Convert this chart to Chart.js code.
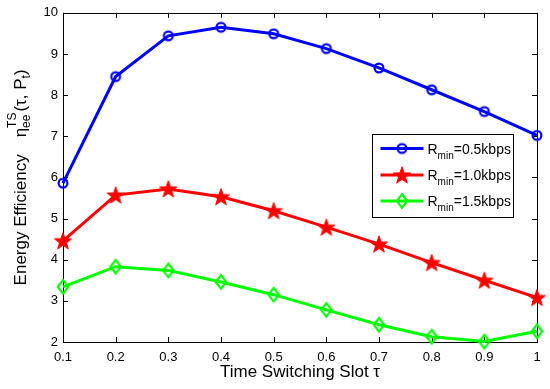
<!DOCTYPE html>
<html>
<head>
<meta charset="utf-8">
<script src="https://cdn.jsdelivr.net/npm/chart.js@4.4.1/dist/chart.umd.min.js"></script>
<style>
html,body{margin:0;padding:0;background:#fff;}
#wrap{width:550px;height:389px;position:relative;}
</style>
</head>
<body>
<div id="wrap"><canvas id="c" width="550" height="389"></canvas></div>
<script>
// ---- data ----
const categories = [0.1, 0.2, 0.3, 0.4, 0.5, 0.6, 0.7, 0.8, 0.9, 1.0];
const seriesR05 = [5.86, 8.45, 9.44, 9.65, 9.49, 9.13, 8.66, 8.13, 7.60, 7.02];
const seriesR10 = [4.46, 5.57, 5.72, 5.53, 5.19, 4.79, 4.38, 3.93, 3.50, 3.08];
const seriesR15 = [3.34, 3.83, 3.74, 3.46, 3.15, 2.78, 2.42, 2.13, 2.01, 2.26];
const xTicks = [0.1, 0.2, 0.3, 0.4, 0.5, 0.6, 0.7, 0.8, 0.9, 1.0];
const yTicks = [2, 3, 4, 5, 6, 7, 8, 9, 10];
const legendValues = ['=0.5kbps', '=1.0kbps', '=1.5kbps'];

const FONT = '"Liberation Sans", Arial, Helvetica, sans-serif';

function makeCircle(color){
  const c = document.createElement('canvas'); c.width = 14; c.height = 14;
  const g = c.getContext('2d');
  g.strokeStyle = color; g.lineWidth = 2.2;
  g.beginPath(); g.arc(7, 7, 4.4, 0, Math.PI*2); g.stroke();
  return c;
}
function makeStar(color){
  const R = 9, r = 3.6, s = 22;
  const c = document.createElement('canvas'); c.width = s; c.height = s;
  const g = c.getContext('2d');
  g.fillStyle = color; g.strokeStyle = color; g.lineWidth = 1;
  g.beginPath();
  for (let i = 0; i < 10; i++) {
    const rad = i % 2 === 0 ? R : r;
    const a = -Math.PI/2 + i*Math.PI/5;
    const px = s/2 + rad*Math.cos(a), py = s/2 + rad*Math.sin(a) + 0.8;
    if (i === 0) g.moveTo(px, py); else g.lineTo(px, py);
  }
  g.closePath(); g.fill(); g.stroke();
  return c;
}
function makeDiamond(color){
  const c = document.createElement('canvas'); c.width = 16; c.height = 18;
  const g = c.getContext('2d');
  g.strokeStyle = color; g.lineWidth = 2.2;
  g.beginPath(); g.moveTo(8, 2.2); g.lineTo(13.2, 9); g.lineTo(8, 15.8); g.lineTo(2.8, 9); g.closePath(); g.stroke();
  return c;
}

const colors = ['#0000ff', '#ff0000', '#00ff00'];
const markers = [makeCircle(colors[0]), makeStar(colors[1]), makeDiamond(colors[2])];
const seriesList = [seriesR05, seriesR10, seriesR15];

const datasets = seriesList.map((s, i) => ({
  label: 'R_min' + legendValues[i],
  data: categories.map((x, k) => ({x: x, y: s[k]})),
  borderColor: colors[i],
  backgroundColor: colors[i],
  borderWidth: 3,
  pointStyle: markers[i],
  pointRadius: 6,
  clip: false,
  tension: 0
}));

const frame = {
  id: 'frame',
  beforeDatasetsDraw(chart){
    const {ctx, chartArea: a, scales} = chart;
    ctx.save();
    ctx.strokeStyle = '#000'; ctx.lineWidth = 1;
    ctx.strokeRect(Math.round(a.left)+0.5, Math.round(a.top)+0.5, Math.round(a.right-a.left), Math.round(a.bottom-a.top));
    const L = 5;
    ctx.beginPath();
    xTicks.forEach(v => {
      const x = Math.round(scales.x.getPixelForValue(v)) + 0.5;
      ctx.moveTo(x, a.bottom); ctx.lineTo(x, a.bottom - L);
      ctx.moveTo(x, a.top); ctx.lineTo(x, a.top + L);
    });
    yTicks.forEach(v => {
      const y = Math.round(scales.y.getPixelForValue(v)) + 0.5;
      ctx.moveTo(a.left, y); ctx.lineTo(a.left + L, y);
      ctx.moveTo(a.right, y); ctx.lineTo(a.right - L, y);
    });
    ctx.stroke();
    ctx.restore();
  },
  afterDatasetsDraw(chart){
    const {ctx, chartArea: a} = chart;
    ctx.save();
    // legend
    const x0 = Math.round(a.right - 165) + 0.5, y0 = Math.round(a.top + 121) + 0.5, w = 141, h = 83;
    ctx.fillStyle = '#fff'; ctx.fillRect(x0, y0, w, h);
    ctx.strokeStyle = '#000'; ctx.lineWidth = 1; ctx.strokeRect(x0, y0, w, h);
    const rows = [14, 40.5, 66.5];
    rows.forEach((dy, i) => {
      const yy = y0 + dy;
      ctx.strokeStyle = colors[i]; ctx.lineWidth = 3;
      ctx.beginPath(); ctx.moveTo(x0 + 8, yy); ctx.lineTo(x0 + 51, yy); ctx.stroke();
      const m = markers[i];
      ctx.drawImage(m, x0 + 29.5 - m.width/2, yy - m.height/2);
      ctx.fillStyle = '#000'; ctx.textBaseline = 'alphabetic'; ctx.textAlign = 'left';
      let tx = x0 + 55;
      const base = yy + 5;
      ctx.font = '14px ' + FONT; ctx.fillText('R', tx, base); tx += ctx.measureText('R').width;
      ctx.font = '10px ' + FONT; ctx.fillText('min', tx, base + 5); tx += ctx.measureText('min').width;
      ctx.font = '14px ' + FONT; ctx.fillText(legendValues[i], tx, base);
    });
    // x title
    ctx.fillStyle = '#000';
    ctx.font = '17px ' + FONT; ctx.textAlign = 'center'; ctx.textBaseline = 'middle';
    ctx.fillText('Time Switching Slot \u03c4', (a.left + a.right)/2, 372);
    // y title (rotated) with sub/superscripts
    ctx.translate(20, (a.top + a.bottom)/2);
    ctx.rotate(-Math.PI/2);
    ctx.textAlign = 'left'; ctx.textBaseline = 'alphabetic';
    const big = '17px ' + FONT, small = '12px ' + FONT;
    ctx.font = big;
    const wE = ctx.measureText('Energy Efficiency').width;
    const gap = 17;
    const wEta = ctx.measureText('\u03b7').width;
    ctx.font = small;
    const wee = ctx.measureText('ee').width, wTS = ctx.measureText('TS').width;
    const wSS = Math.max(wee, wTS);
    ctx.font = big;
    const wOpen = ctx.measureText('(\u03c4, P').width;
    ctx.font = small;
    const wt = ctx.measureText('t').width;
    ctx.font = big;
    const wClose = ctx.measureText(')').width;
    const total = wE + gap + wEta + wSS + 1 + wOpen + wt + wClose;
    let tx = -total/2;
    const by = 6;
    ctx.font = big; ctx.fillText('Energy Efficiency', tx, by); tx += wE + gap;
    ctx.fillText('\u03b7', tx, by); tx += wEta;
    ctx.font = small; ctx.fillText('ee', tx, by + 4); ctx.fillText('TS', tx, by - 10); tx += wSS + 1;
    ctx.font = big; ctx.fillText('(\u03c4, P', tx, by); tx += wOpen;
    ctx.font = small; ctx.fillText('t', tx, by + 4); tx += wt;
    ctx.font = big; ctx.fillText(')', tx, by);
    ctx.restore();
  }
};

new Chart(document.getElementById('c'), {
  type: 'line',
  data: { datasets },
  plugins: [frame],
  options: {
    responsive: false,
    animation: false,
    devicePixelRatio: 1,
    layout: { padding: { top: 11, right: 13, left: 0, bottom: 0 } },
    plugins: { legend: { display: false }, tooltip: { enabled: false } },
    scales: {
      x: {
        type: 'linear', min: 0.1, max: 1.0,
        afterBuildTicks(scale){ scale.ticks = xTicks.map(v => ({value: v})); },
        afterFit(scale){ scale.height = 47; },
        grid: { display: false, drawTicks: false },
        border: { display: false },
        ticks: { color: '#000', font: { size: 13, family: FONT }, padding: 8, maxRotation: 0, autoSkip: false,
                 callback: v => String(+Number(v).toFixed(1)) }
      },
      y: {
        type: 'linear', min: 2, max: 10,
        afterBuildTicks(scale){ scale.ticks = yTicks.map(v => ({value: v})); },
        afterFit(scale){ scale.width = 63; },
        grid: { display: false, drawTicks: false },
        border: { display: false },
        ticks: { color: '#000', font: { size: 13, family: FONT }, padding: 5, autoSkip: false }
      }
    }
  }
});
</script>
</body>
</html>
